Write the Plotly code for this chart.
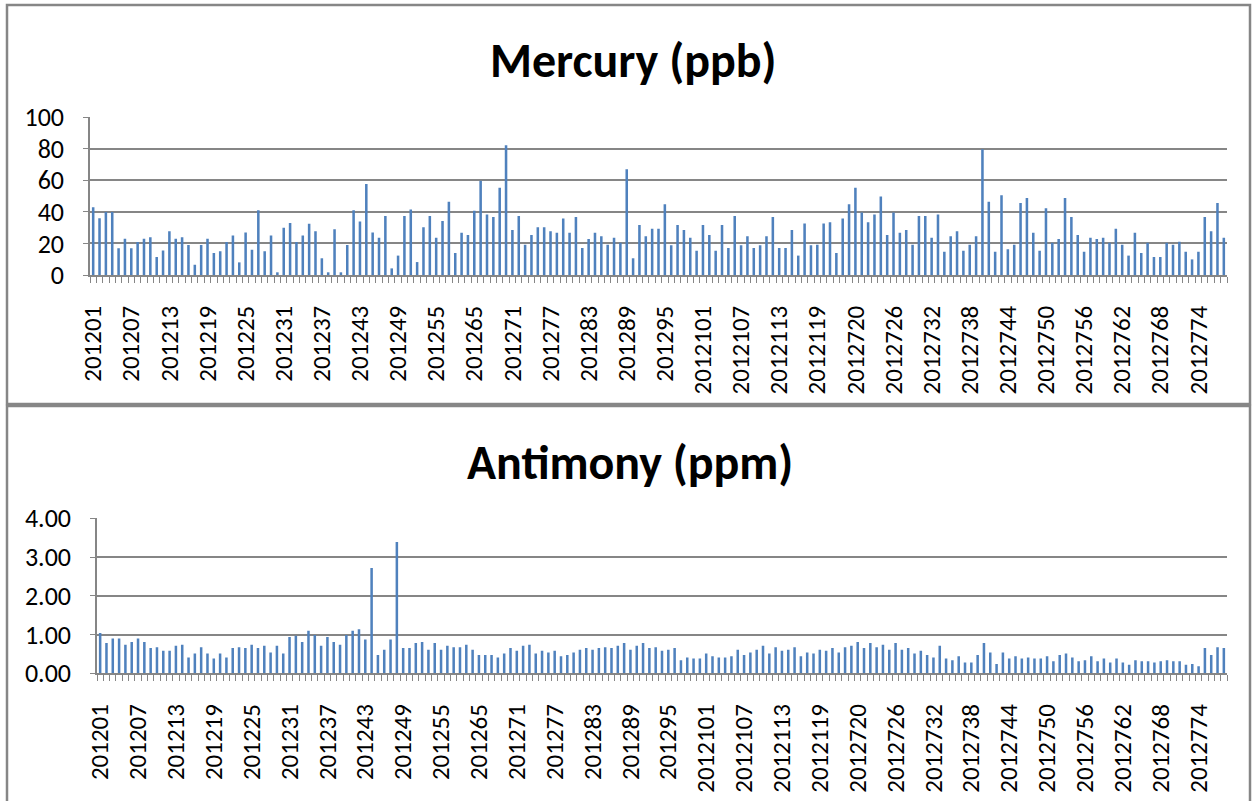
import plotly.graph_objects as go

# sample ids along the category axis
sample_ids = (["2012%02d" % i for i in range(1, 61)]
              + ["2012%d" % i for i in range(65, 125)]
              + ["2012%d" % i for i in range(720, 779)])

mercury = [43, 36, 40, 40, 17, 23, 17, 21, 23, 24, 11.4, 15.5, 27.7, 23, 24, 19, 6.5, 19, 23, 14,
           15, 21, 25, 8, 27, 16, 41, 15, 25, 1.7, 30, 33, 21, 25, 32.5, 27.7, 10.6, 1.7, 29, 1.7,
           19, 41, 34, 57.7, 27,
           23.7, 37.4, 4.2, 12.3, 37.4, 41.6, 8.2, 30.2, 37.4, 23.7, 34.2, 46.5, 14, 26.8, 25.4,
           40.8, 59.8, 38.3, 36.8, 55.4, 82.2, 28.5, 37.4, 19.2, 25.4, 30.2, 30.2, 27.7, 26.8, 35.9,
           26.8, 36.8, 17.1, 22.8, 26.8, 24.5, 19.2, 23.7, 20.5, 67, 10.6, 31.7, 24.5, 29.4, 29.4,
           44.8, 18.8, 31.7, 28.5, 23.7, 15.4, 31.7, 25.4, 15.4, 31.7, 17.1, 37.4, 18.8, 24.5, 17.1,
           18.8, 24.5, 36.8, 17.1, 17.1, 28.5, 12.3, 32.6, 18.8, 19.2, 32.6, 33.4, 14, 35.9, 44.8,
           55.4, 39.7, 33.4, 38.3, 49.7, 25.4, 39.7, 26.8, 28.5, 19.2, 37.4, 37.4, 23.7, 38.3, 14.8,
           24.5, 27.7, 15.4, 19.2, 24.5, 79.7, 46.5, 14.8, 50.5, 16.3, 19.2, 45.7, 48.8, 26.8, 15.4,
           42.3, 20.5, 22.8, 48.8, 36.8, 25.4, 14.8, 23.7, 22.8, 23.7, 20.5, 29.4, 19.2, 12.3, 26.8,
           14, 20.5, 11.4, 11.4, 20.5, 19.2, 21.1, 14.8, 9.9, 14.8, 36.8, 27.7, 45.7, 23.7]

antimony = [1.04, 0.78, 0.9, 0.9, 0.74, 0.81, 0.9, 0.81, 0.65, 0.67, 0.58, 0.58, 0.71, 0.74, 0.41,
            0.51, 0.67, 0.51, 0.38, 0.51, 0.41, 0.65, 0.67, 0.65, 0.74, 0.65, 0.71, 0.54, 0.71, 0.51,
            0.94, 0.97, 0.81, 1.10, 0.99, 0.71, 0.94, 0.81, 0.74, 0.99, 1.10, 1.14, 0.87, 2.72,
            0.47, 0.61, 0.87, 3.39, 0.65, 0.65, 0.78, 0.81, 0.61, 0.78, 0.61, 0.71, 0.67, 0.67, 0.74,
            0.61, 0.47, 0.47, 0.47, 0.41, 0.51, 0.65, 0.58, 0.71, 0.74, 0.51, 0.58, 0.54, 0.58, 0.44,
            0.47, 0.54, 0.61, 0.65, 0.61, 0.65, 0.67, 0.65, 0.71, 0.78, 0.61, 0.71, 0.78, 0.65, 0.67,
            0.58, 0.61, 0.65, 0.34, 0.41, 0.38, 0.38, 0.51, 0.44, 0.41, 0.41, 0.44, 0.61, 0.47, 0.54,
            0.61, 0.71, 0.51, 0.67, 0.58, 0.61, 0.67, 0.44, 0.54, 0.51, 0.61, 0.58, 0.65, 0.54, 0.67,
            0.71, 0.81, 0.65, 0.78, 0.67, 0.74, 0.61, 0.78, 0.61, 0.65, 0.51, 0.58, 0.47, 0.41, 0.71,
            0.38, 0.34, 0.44, 0.28, 0.28, 0.47, 0.78, 0.54, 0.24, 0.54, 0.38, 0.44, 0.38, 0.41, 0.38,
            0.38, 0.44, 0.31, 0.47, 0.51, 0.41, 0.31, 0.34, 0.44, 0.31, 0.38, 0.28, 0.38, 0.28, 0.22,
            0.34, 0.31, 0.31, 0.28, 0.31, 0.34, 0.31, 0.31, 0.22, 0.24, 0.18, 0.65, 0.47, 0.67, 0.65]

mercury_ticks = [0, 20, 40, 60, 80, 100]
antimony_ticks = [0, 1, 2, 3, 4]

W, H = 1257, 801
FONT = "Calibri, Lato, sans-serif"
BLUE = "#4F81BD"
GREY = "#868686"


def px(x):
    return x / W


def py(y):
    return 1 - y / H


pos = list(range(len(sample_ids)))
label_pos = pos[::6]
label_txt = sample_ids[::6]

fig = go.Figure()
fig.add_trace(go.Bar(x=pos, y=mercury, marker_color=BLUE, marker_line_width=0,
                     xaxis="x", yaxis="y", showlegend=False))
fig.add_trace(go.Bar(x=pos, y=antimony, marker_color=BLUE, marker_line_width=0,
                     xaxis="x2", yaxis="y2", showlegend=False))


def xaxis_cfg(x0, x1, anchor):
    return dict(domain=[px(x0), px(x1)], anchor=anchor, range=[-0.5, len(pos) - 0.5],
                automargin=False,
                tickmode="array", tickvals=label_pos, ticktext=label_txt, tickangle=-90,
                ticks="", ticklabelstandoff=19, showgrid=False, zeroline=False,
                showline=True, linecolor=GREY, linewidth=1.5,
                tickfont=dict(family=FONT, size=25, color="black"),
                minor=dict(ticks="outside", tickmode="linear", tick0=-0.5, dtick=1,
                           ticklen=6, tickcolor=GREY, tickwidth=1.2, showgrid=False))


def yaxis_cfg(y_top, y_bot, anchor, ticks, rng, fmt):
    return dict(domain=[py(y_bot), py(y_top)], anchor=anchor, range=rng,
                automargin=False,
                tickmode="array", tickvals=ticks, tickformat=fmt,
                showgrid=True, gridcolor=GREY, gridwidth=1.5, zeroline=False,
                showline=True, linecolor=GREY, linewidth=1.5,
                ticks="outside", ticklen=5, tickcolor=GREY, ticklabelstandoff=14,
                tickfont=dict(family=FONT, size=26, color="black"))


fig.update_layout(
    width=W, height=H,
    margin=dict(l=0, r=0, t=0, b=0, autoexpand=False),
    paper_bgcolor="white", plot_bgcolor="white",
    bargap=0.6,
    xaxis=xaxis_cfg(90, 1227, "y"),
    yaxis=yaxis_cfg(117.3, 275, "x", mercury_ticks, [0, 100], "d"),
    xaxis2=xaxis_cfg(97, 1227, "y2"),
    yaxis2=yaxis_cfg(518.3, 673.3, "x2", antimony_ticks, [0, 4], ".2f"),
    annotations=[
        dict(text="<b>Mercury (ppb)</b>", x=px(633), y=py(61), xref="paper", yref="paper",
             xanchor="center", yanchor="middle", showarrow=False,
             font=dict(family=FONT, size=48, color="black")),
        dict(text="<b>Antimony (ppm)</b>", x=px(630), y=py(462), xref="paper", yref="paper",
             xanchor="center", yanchor="middle", showarrow=False,
             font=dict(family=FONT, size=48, color="black")),
    ],
    shapes=[
        dict(type="rect", xref="paper", yref="paper", x0=px(7), x1=px(1250),
             y0=py(404), y1=py(5), line=dict(color=GREY, width=2.5)),
        dict(type="rect", xref="paper", yref="paper", x0=px(7), x1=px(1250),
             y0=-0.02, y1=py(406), line=dict(color=GREY, width=2.5)),
    ],
)

# drop the default 8px body margin so the figure fills the window exactly
fig.write_html("out.html", config={"displayModeBar": False},
               post_script="document.body.style.margin='0px';")
